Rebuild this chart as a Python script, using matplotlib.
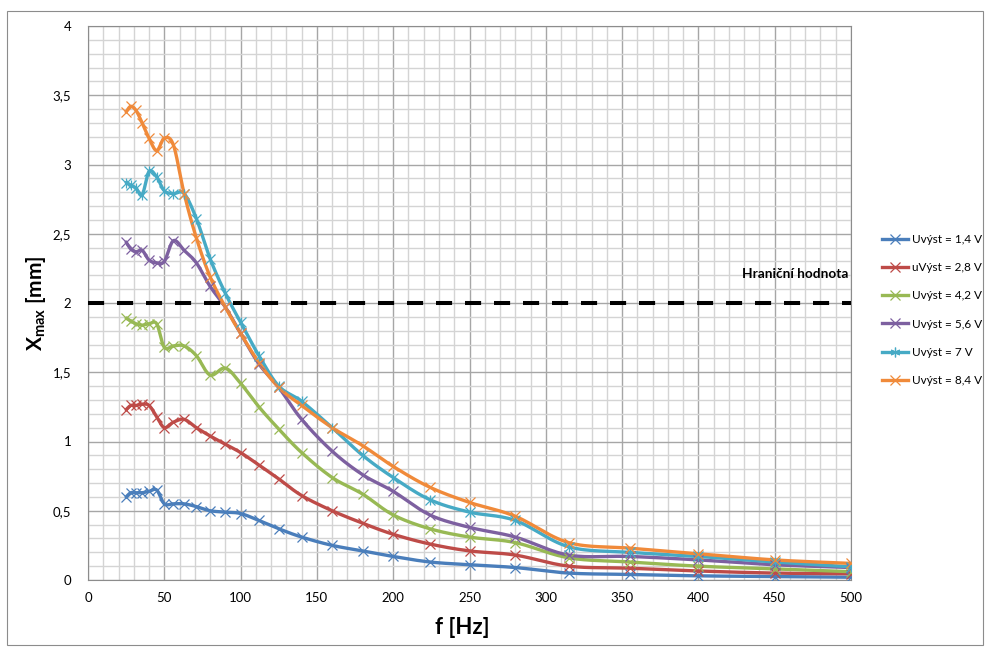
import numpy as np
import matplotlib
matplotlib.use("Agg")
import matplotlib.pyplot as plt
from matplotlib.ticker import MultipleLocator, FuncFormatter
from matplotlib.patches import Rectangle

plt.rcParams['font.family'] = ['Lato', 'DejaVu Sans']
plt.rcParams['mathtext.fontset'] = 'custom'
plt.rcParams['mathtext.rm'] = 'Lato'
plt.rcParams['mathtext.bf'] = 'Lato:bold'

# frekvence [Hz]
freq = [25, 28, 31.5, 35.5, 40, 45, 50, 56, 63, 71, 80, 90, 100, 112, 125, 140,
        160, 180, 200, 224, 250, 280, 315, 355, 400, 450, 500]

# Xmax [mm] pro jednotlive napeti
u_14 = [0.60, 0.63, 0.63, 0.63, 0.64, 0.65, 0.55, 0.55, 0.55, 0.53, 0.50, 0.49, 0.48, 0.43,
        0.37, 0.31, 0.25, 0.21, 0.17, 0.13, 0.11, 0.09, 0.05, 0.04, 0.03, 0.025, 0.02]
u_28 = [1.23, 1.26, 1.26, 1.27, 1.26, 1.18, 1.10, 1.14, 1.16, 1.10, 1.04, 0.98, 0.92, 0.83,
        0.73, 0.61, 0.50, 0.41, 0.33, 0.26, 0.21, 0.18, 0.10, 0.085, 0.065, 0.05, 0.045]
u_42 = [1.89, 1.87, 1.85, 1.84, 1.85, 1.85, 1.68, 1.69, 1.69, 1.62, 1.48, 1.53, 1.42, 1.25,
        1.09, 0.92, 0.74, 0.62, 0.47, 0.37, 0.31, 0.27, 0.16, 0.13, 0.10, 0.08, 0.06]
u_56 = [2.44, 2.39, 2.37, 2.38, 2.31, 2.29, 2.30, 2.45, 2.38, 2.29, 2.12, 1.97, 1.78, 1.56,
        1.39, 1.16, 0.93, 0.76, 0.64, 0.47, 0.38, 0.31, 0.18, 0.17, 0.145, 0.11, 0.09]
u_70 = [2.87, 2.85, 2.83, 2.78, 2.95, 2.91, 2.81, 2.79, 2.79, 2.61, 2.32, 2.07, 1.86, 1.62,
        1.40, 1.29, 1.10, 0.90, 0.74, 0.58, 0.49, 0.43, 0.24, 0.20, 0.17, 0.13, 0.095]
u_84 = [3.38, 3.42, 3.39, 3.30, 3.19, 3.10, 3.19, 3.14, 2.79, 2.47, 2.19, 1.97, 1.78, 1.57,
        1.39, 1.26, 1.10, 0.97, 0.82, 0.67, 0.56, 0.46, 0.27, 0.23, 0.19, 0.145, 0.12]

labels = ['Uvýst = 1,4 V', 'uVýst = 2,8 V', 'Uvýst = 4,2 V',
          'Uvýst = 5,6 V', 'Uvýst = 7 V', 'Uvýst = 8,4 V']
colors = ['#4A7EBB', '#BE4B48', '#98B954', '#7D60A0', '#46AAC5', '#F08A3A']
limit = 2.0


# vyhlazeni jako v Excelu (Catmull-Rom -> Bezier)
def smooth(x, y, n=16):
    p = np.column_stack([x, y]).astype(float)
    out = [p[0]]
    t = np.linspace(0, 1, n)[1:, None]
    for i in range(len(p) - 1):
        p0 = p[i - 1] if i > 0 else p[i]
        p1, p2 = p[i], p[i + 1]
        p3 = p[i + 2] if i + 2 < len(p) else p[i + 1]
        c1 = p1 + (p2 - p0) / 6
        c2 = p2 - (p3 - p1) / 6
        seg = ((1 - t) ** 3) * p1 + 3 * ((1 - t) ** 2) * t * c1 + 3 * (1 - t) * t ** 2 * c2 + t ** 3 * p2
        out.extend(seg)
    out = np.array(out)
    return out[:, 0], out[:, 1]


fig = plt.figure(figsize=(9.85, 6.48), dpi=100)
ax = fig.add_axes([88 / 985, 1 - 580 / 648, (851 - 88) / 985, (580 - 26) / 648])

# ramecek grafu
fig.patches.append(Rectangle((7 / 985, 3 / 648), 976 / 985, 634 / 648, transform=fig.transFigure,
                             fill=False, edgecolor='#8c8c8c', linewidth=0.8))

series = [u_14, u_28, u_42, u_56, u_70, u_84]
for i, (vals, lab, c) in enumerate(zip(series, labels, colors)):
    sx, sy = smooth(freq, vals)
    ax.plot(sx, sy, color=c, lw=2.4, solid_capstyle='round', zorder=3)
    ax.plot(freq, vals, ls='none', marker='x', color=c, ms=7, mew=0.9, zorder=4)
    if i == 4:
        # hvezdicka = x + svisla cara
        ax.plot(freq, vals, ls='none', marker='|', color=c, ms=7, mew=0.9, zorder=4)
        ax.plot([], [], color=c, lw=2.4, marker=(6, 2, 0), ms=7, mew=0.9, label=lab)
    else:
        ax.plot([], [], color=c, lw=2.4, marker='x', ms=7, mew=0.9, label=lab)

ax.axhline(limit, color='black', lw=2.9, dashes=(4, 3.2), zorder=5)
ax.text(498, 2.18, 'Hraniční hodnota', fontsize=9.8, fontweight='bold', ha='right')

ax.set_xlim(0, 500)
ax.set_ylim(0, 4)
ax.xaxis.set_major_locator(MultipleLocator(50))
ax.xaxis.set_minor_locator(MultipleLocator(10))
ax.yaxis.set_major_locator(MultipleLocator(0.5))
ax.yaxis.set_minor_locator(MultipleLocator(0.1))
fmt = FuncFormatter(lambda v, p: f'{v:g}'.replace('.', ','))
ax.yaxis.set_major_formatter(fmt)
ax.grid(which='major', color='#a6a6a6', lw=1.0, zorder=0)
ax.grid(which='minor', color='#d4d4d4', lw=1.0, zorder=0)
ax.set_axisbelow(True)
ax.tick_params(which='both', length=0, labelsize=9.5)
ax.tick_params(axis='y', pad=12)
ax.tick_params(axis='x', pad=9)
for s in ax.spines.values():
    s.set_color('#8c8c8c')

ax.set_xlabel('f [Hz]', fontsize=16, fontweight='bold')
ax.set_ylabel(r'$\mathbf{X_{max}}$ [mm]', fontsize=15, fontweight='bold')
ax.xaxis.set_label_coords(0.49, -0.067)
ax.yaxis.set_label_coords(-0.052, 0.5)

ax.legend(loc='center left', bbox_to_anchor=(882 / 985, 1 - 310 / 648), bbox_transform=fig.transFigure,
          frameon=False, fontsize=8.5, handlelength=2.2, handletextpad=0.3, labelspacing=1.45,
          borderaxespad=0, borderpad=0)

fig.savefig('out.png', dpi=100)
